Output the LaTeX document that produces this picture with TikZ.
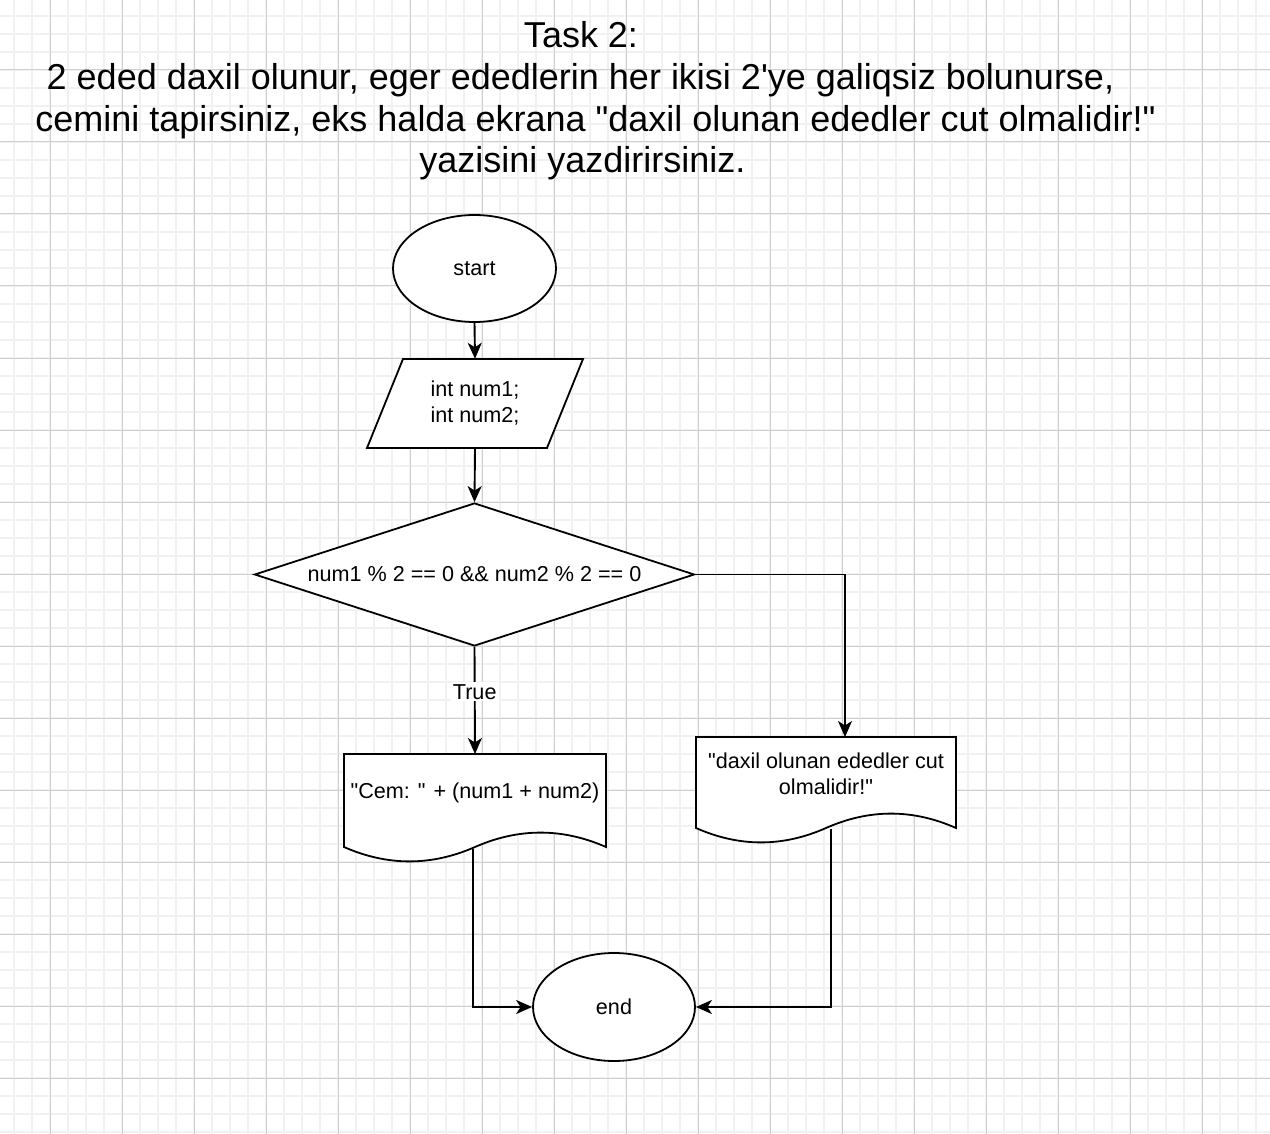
\documentclass[tikz,border=0pt]{standalone}
\usepackage{fontspec}
\setmainfont{Liberation Sans}
\usetikzlibrary{arrows.meta,shapes.geometric}
\definecolor{gridminor}{HTML}{F1F1F1}
\definecolor{gridmajor}{HTML}{D0D0D0}
\newcommand\qd{\textquotedbl}
\tikzset{
  minorline/.style={draw=gridminor, line width=1.3pt},
  majorline/.style={draw=gridmajor, line width=1pt},
  shp/.style={draw=black, fill=white, line width=1.8pt, line join=miter},
  conn/.style={draw=black, line width=1.9pt, -{Stealth[length=16pt,width=14pt,inset=4.5pt]}},
  titletext/.style={font=\fontsize{36}{42}\selectfont, inner sep=0pt, anchor=base},
  bodytext/.style={font=\fontsize{21.6}{26}\selectfont, align=center, inner sep=0pt},
  term/.style={shp, ellipse, minimum width=163pt, minimum height=107pt, inner sep=0pt, font=\fontsize{21.6}{26}\selectfont},
}
\begin{document}
\begin{tikzpicture}[x=1pt,y=-1pt]
\useasboundingbox (0,0) rectangle (1270,1134);
\fill[white] (0,0) rectangle (1270,1134);
% grid
\foreach \x in {14,32,...,1268} \draw[minorline] (\x,0) -- (\x,1134);
\foreach \y in {16,34,...,1132} \draw[minorline] (0,\y) -- (1270,\y);
\foreach \x in {50,122,...,1266} \draw[majorline] (\x,0) -- (\x,1134);
\foreach \y in {70,142,...,1132} \draw[majorline] (0,\y) -- (1270,\y);

% title
\node[titletext] (t1) at (581,48) {Task 2:};
\node[titletext] (t2) at (580.5,90) {2 eded daxil olunur, eger ededlerin her ikisi 2\textquotesingle ye galiqsiz bolunurse,};
\node[titletext] (t3) at (595.5,132) {cemini tapirsiniz, eks halda ekrana \qd daxil olunan ededler cut olmalidir!\qd};
\node[titletext] (t4) at (582.5,173) {yazisini yazdirirsiniz.};

% start
\node[term] (start) at (474.5,268.5) {start};

% input parallelogram
\draw[shp] (403,359) -- (583,359) -- (547,448) -- (367,448) -- cycle;
\node[bodytext, minimum width=180pt, minimum height=89pt] (inp) at (475,403.5) {int num1;\\int num2;};

% decision
\node[shp, diamond, aspect=3.08, minimum width=440pt, minimum height=143pt, inner sep=0pt, font=\fontsize{21.6}{26}\selectfont] (dia) at (474.5,574.5) {num1 \% 2 == 0 \&\& num2 \% 2 == 0};

% left document
\draw[shp] (344,754) -- (606,754) -- (606,847)
  .. controls (562.33,827.8) and (518.67,827.8) .. (475,847)
  .. controls (431.33,866.2) and (387.67,866.2) .. (344,847) -- cycle;
\node[bodytext] (cem) at (475,793) {\qd Cem: \qd{} + (num1 + num2)};
\coordinate (cemtop) at (475,754);
\coordinate (cembot) at (473,849);

% right document
\draw[shp] (696,737) -- (956,737) -- (956,828)
  .. controls (912.67,808.8) and (869.33,808.8) .. (826,828)
  .. controls (782.67,847.2) and (739.33,847.2) .. (696,828) -- cycle;
\node[bodytext] (msg) at (826,774) {\qd daxil olunan ededler cut\\olmalidir!\qd};
\coordinate (msgtop) at (845,737);
\coordinate (msgbot) at (831,829);

% end
\node[term, minimum width=162pt, minimum height=108pt] (end) at (614,1007) {end};

% connectors
\draw[conn] (start.south) -- (inp.north);
\draw[conn] (inp.south) -- (dia.north);
\draw[conn] (dia.south) -- node[pos=0.42, fill=white, inner sep=2pt, font=\fontsize{21.6}{26}\selectfont] (truelbl) {True} (cemtop);
\draw[conn] (dia.east) -| (msgtop);
\draw[conn] (cembot) |- (end.west);
\draw[conn] (msgbot) |- (end.east);
\end{tikzpicture}
\end{document}
